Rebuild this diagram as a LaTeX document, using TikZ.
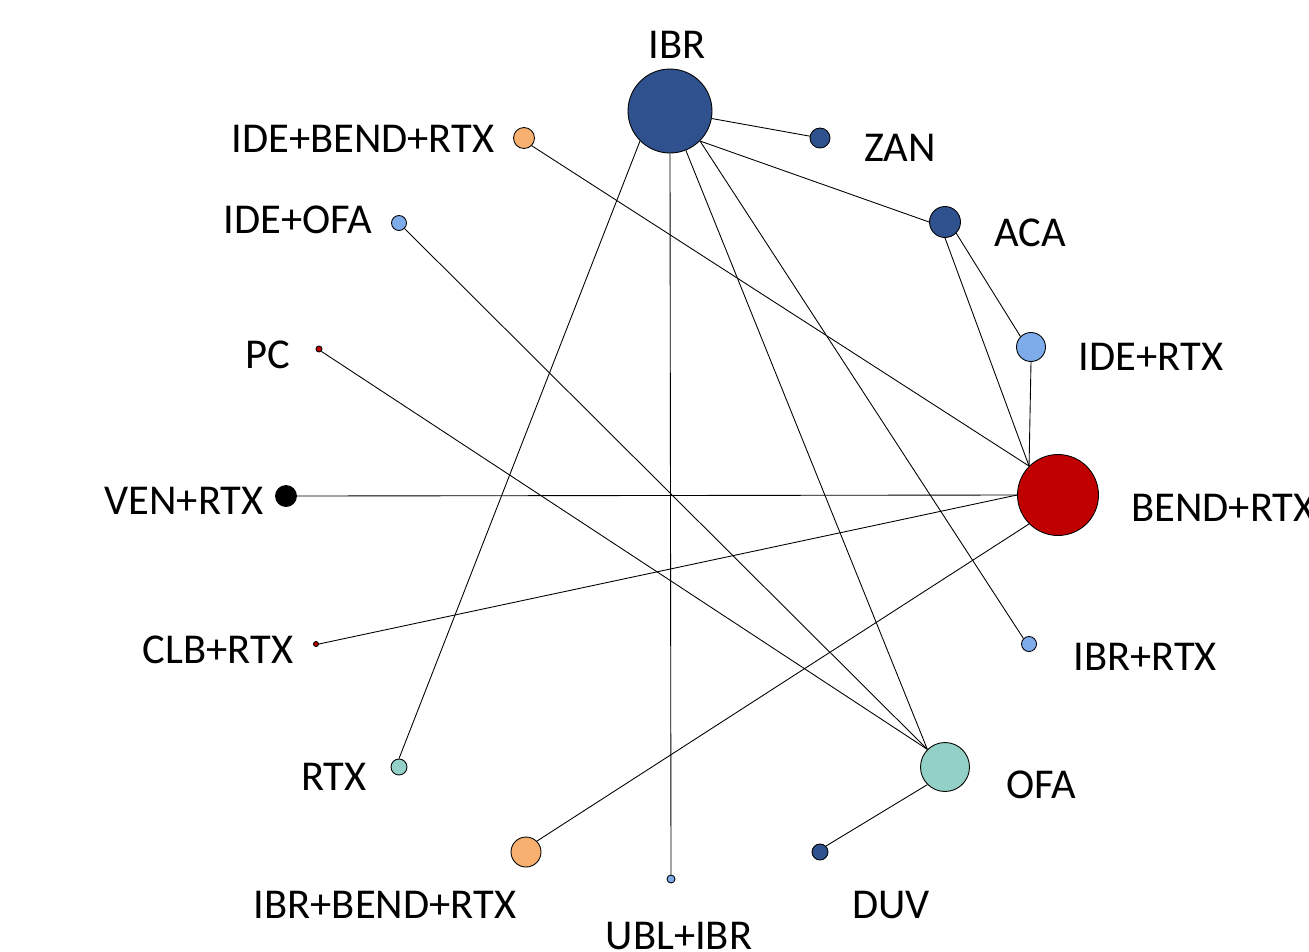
\documentclass[tikz,border=0pt]{standalone}
\usepackage{fontspec}
\setmainfont{Carlito}
\definecolor{trtblue}{RGB}{47, 82, 143}
\definecolor{trtlight}{RGB}{126, 172, 234}
\definecolor{trtteal}{RGB}{146, 208, 200}
\definecolor{trtorange}{RGB}{248, 176, 112}
\definecolor{trtred}{RGB}{192, 0, 0}

\begin{document}
\begin{tikzpicture}[
  x=0.02cm, y=-0.02cm,
  every node/.style={font=\fontsize{24.2}{29}\selectfont},
  trt/.style={circle, draw=black, line width=0.5pt, inner sep=0pt},
  lbl/.style={inner sep=0pt},
  link/.style={black, line width=0.5pt},
]
\useasboundingbox (0, 0) rectangle (1309, 951);

% Treatments (circle size ~ number of patients)
\node[trt, fill=trtblue, minimum size=1.68cm]   (ibr)    at (670, 111) {};
\node[trt, fill=trtblue, minimum size=0.40cm]   (zan)    at (820, 138) {};
\node[trt, fill=trtblue, minimum size=0.62cm]   (aca)    at (945, 222) {};
\node[trt, fill=trtlight, minimum size=0.58cm]  (idertx) at (1031, 347) {};
\node[trt, fill=trtred, minimum size=1.62cm]    (bendrtx) at (1058, 495) {};
\node[trt, fill=trtlight, minimum size=0.30cm]  (ibrrtx) at (1029, 644) {};
\node[trt, fill=trtteal, minimum size=0.98cm]   (ofa)    at (945, 767) {};
\node[trt, fill=trtblue, minimum size=0.32cm]   (duv)    at (820, 852) {};
\node[trt, fill=trtlight, minimum size=0.16cm]  (ublibr) at (671, 879) {};
\node[trt, fill=trtorange, minimum size=0.60cm] (ibrbendrtx) at (526, 852) {};
\node[trt, fill=trtteal, minimum size=0.32cm]   (rtx)    at (399, 767) {};
\node[trt, fill=trtred, minimum size=0.10cm]    (clbrtx) at (316, 644) {};
\node[trt, fill=black, minimum size=0.42cm]     (venrtx) at (286, 496) {};
\node[trt, fill=trtred, minimum size=0.12cm]    (pc)     at (319, 349) {};
\node[trt, fill=trtlight, minimum size=0.30cm]  (ideofa) at (399, 223) {};
\node[trt, fill=trtorange, minimum size=0.42cm] (idebendrtx) at (524, 138) {};

% Labels
\node[lbl] (l-ibr)    at (677, 45)  {IBR};
\node[lbl] (l-zan)    at (900, 148) {ZAN};
\node[lbl] (l-aca)    at (1030, 233) {ACA};
\node[lbl] (l-idertx) at (1151, 357) {IDE+RTX};
\node[lbl, anchor=west] (l-bendrtx) at (1131, 508) {BEND+RTX};
\node[lbl, anchor=west] (l-ibrrtx)  at (1073, 657) {IBR+RTX};
\node[lbl] (l-ofa)    at (1041, 785) {OFA};
\node[lbl] (l-duv)    at (891, 905) {DUV};
\node[lbl] (l-ublibr) at (679, 936) {UBL+IBR};
\node[lbl] (l-ibrbendrtx) at (385, 905) {IBR+BEND+RTX};
\node[lbl] (l-rtx)    at (334, 777) {RTX};
\node[lbl] (l-clbrtx) at (218, 650) {CLB+RTX};
\node[lbl] (l-venrtx) at (184, 501) {VEN+RTX};
\node[lbl] (l-pc)     at (268, 355) {PC};
\node[lbl] (l-ideofa) at (298, 220) {IDE+OFA};
\node[lbl] (l-idebendrtx) at (363, 139) {IDE+BEND+RTX};

% Comparisons
\draw[link] (ibr) -- (zan);
\draw[link] (ibr.south east) -- (aca.west);
\draw[link] (ibr.south west) -- (rtx.north);
\draw[link] (ibr.south) -- (ublibr.north);
\draw[link] (ibr) -- (ofa.north west);
\draw[link] (ibr.south east) -- (ibrrtx.north west);
\draw[link] (aca.south east) -- (idertx.north west);
\draw[link] (aca.south) -- (bendrtx.north west);
\draw[link] (idertx.south) -- (bendrtx.north west);
\draw[link] (idebendrtx.south east) -- (bendrtx.north west);
\draw[link] (venrtx.east) -- (bendrtx.west);
\draw[link] (clbrtx.east) -- (bendrtx.west);
\draw[link] (bendrtx.south west) -- (ibrbendrtx.north east);
\draw[link] (ideofa.south east) -- (ofa.north west);
\draw[link] (pc.south east) -- (ofa.north west);
\draw[link] (ofa.south west) -- (duv.north east);

\end{tikzpicture}
\end{document}
